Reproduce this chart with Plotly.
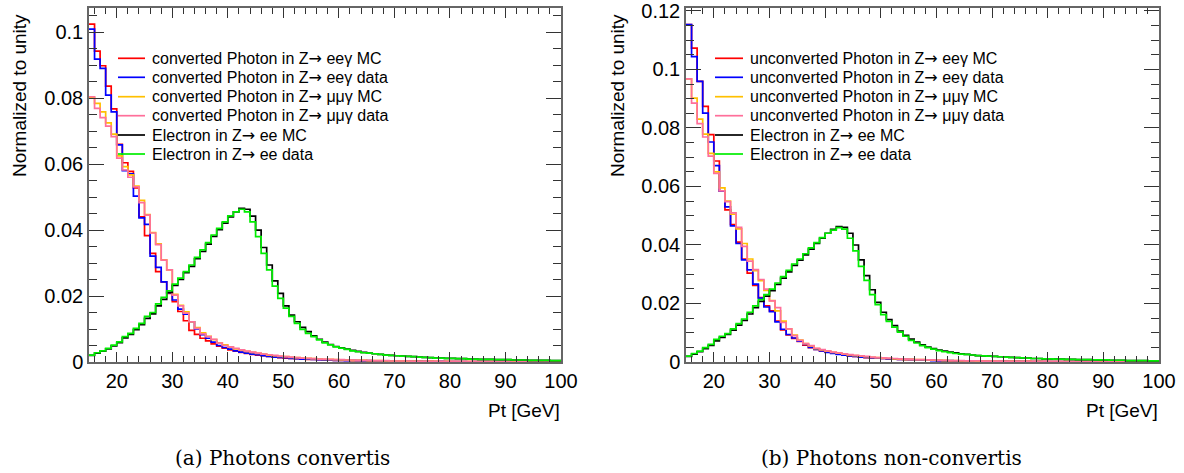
import plotly.graph_objects as go

# ---------------- data ----------------
BIN_EDGES = list(range(15, 101))  # 1 GeV bins, 15..100

# left panel: converted photons
conv_ee_mc = [
    0.1024, 0.0942, 0.0898, 0.0836, 0.0767, 0.0660, 0.0604, 0.0578, 0.0528, 0.0440,
    0.0383, 0.0329, 0.0274, 0.0243, 0.0208, 0.0183, 0.0153, 0.0125, 0.0096, 0.0084,
    0.0072, 0.0064, 0.0055, 0.0048, 0.0042, 0.0037, 0.0033, 0.0029, 0.0026, 0.0023,
    0.0021, 0.0019, 0.0017, 0.0015, 0.0013, 0.0012, 0.0011, 0.0010, 0.0009, 0.0008,
    0.0008, 0.0007, 0.0006, 0.0006, 0.0005, 0.0005, 0.0005, 0.0004, 0.0004, 0.0004,
    0.0003, 0.0003, 0.0003, 0.0003, 0.0002, 0.0002, 0.0002, 0.0002, 0.0002, 0.0002,
    0.0001, 0.0002, 0.0001, 0.0001, 0.0001, 0.0001, 0.0001, 0.0001, 0.0001, 0.0001,
    0.0001, 0.0001, 0.0001, 0.0000, 0.0001, 0.0001, 0.0000, 0.0001, 0.0000, 0.0000,
    0.0000, 0.0001, 0.0000, 0.0000, 0.0000]
conv_ee_data = [
    0.1009, 0.0918, 0.0890, 0.0809, 0.0758, 0.0658, 0.0580, 0.0570, 0.0503, 0.0437,
    0.0417, 0.0321, 0.0287, 0.0243, 0.0210, 0.0188, 0.0160, 0.0145, 0.0122, 0.0100,
    0.0083, 0.0072, 0.0060, 0.0050, 0.0044, 0.0039, 0.0034, 0.0030, 0.0027, 0.0024,
    0.0022, 0.0019, 0.0017, 0.0015, 0.0014, 0.0013, 0.0011, 0.0010, 0.0009, 0.0009,
    0.0008, 0.0007, 0.0006, 0.0006, 0.0005, 0.0005, 0.0004, 0.0005, 0.0004, 0.0003,
    0.0004, 0.0003, 0.0003, 0.0002, 0.0003, 0.0002, 0.0002, 0.0002, 0.0001, 0.0002,
    0.0002, 0.0001, 0.0001, 0.0002, 0.0001, 0.0001, 0.0001, 0.0001, 0.0000, 0.0001,
    0.0001, 0.0001, 0.0000, 0.0001, 0.0001, 0.0000, 0.0001, 0.0000, 0.0001, 0.0000,
    0.0000, 0.0000, 0.0001, 0.0000, 0.0000]
conv_mm_mc = [
    0.0802, 0.0784, 0.0758, 0.0725, 0.0691, 0.0625, 0.0592, 0.0567, 0.0533, 0.0490,
    0.0447, 0.0392, 0.0358, 0.0310, 0.0279, 0.0205, 0.0172, 0.0152, 0.0122, 0.0104,
    0.0088, 0.0078, 0.0068, 0.0058, 0.0052, 0.0045, 0.0040, 0.0036, 0.0032, 0.0029,
    0.0026, 0.0024, 0.0021, 0.0019, 0.0017, 0.0016, 0.0014, 0.0013, 0.0012, 0.0011,
    0.0010, 0.0009, 0.0008, 0.0008, 0.0007, 0.0006, 0.0006, 0.0005, 0.0005, 0.0005,
    0.0004, 0.0004, 0.0004, 0.0003, 0.0003, 0.0003, 0.0003, 0.0002, 0.0002, 0.0002,
    0.0002, 0.0002, 0.0002, 0.0001, 0.0002, 0.0001, 0.0001, 0.0001, 0.0001, 0.0001,
    0.0001, 0.0001, 0.0001, 0.0001, 0.0000, 0.0001, 0.0001, 0.0000, 0.0001, 0.0000,
    0.0001, 0.0000, 0.0000, 0.0000, 0.0000]
conv_mm_data = [
    0.0804, 0.0769, 0.0741, 0.0715, 0.0683, 0.0618, 0.0582, 0.0560, 0.0531, 0.0483,
    0.0445, 0.0391, 0.0356, 0.0309, 0.0279, 0.0203, 0.0170, 0.0148, 0.0122, 0.0102,
    0.0085, 0.0077, 0.0069, 0.0057, 0.0050, 0.0046, 0.0041, 0.0037, 0.0033, 0.0030,
    0.0027, 0.0024, 0.0022, 0.0020, 0.0018, 0.0016, 0.0015, 0.0013, 0.0012, 0.0011,
    0.0010, 0.0009, 0.0009, 0.0008, 0.0007, 0.0007, 0.0006, 0.0006, 0.0005, 0.0005,
    0.0005, 0.0004, 0.0004, 0.0004, 0.0003, 0.0003, 0.0003, 0.0003, 0.0002, 0.0002,
    0.0002, 0.0002, 0.0002, 0.0002, 0.0001, 0.0002, 0.0001, 0.0001, 0.0001, 0.0001,
    0.0001, 0.0001, 0.0001, 0.0001, 0.0001, 0.0001, 0.0000, 0.0001, 0.0001, 0.0000,
    0.0001, 0.0000, 0.0001, 0.0000, 0.0000]
ele_mc_a = [
    0.0020, 0.0027, 0.0033, 0.0040, 0.0049, 0.0059, 0.0073, 0.0084, 0.0098, 0.0113,
    0.0132, 0.0146, 0.0170, 0.0190, 0.0211, 0.0232, 0.0250, 0.0271, 0.0290, 0.0313,
    0.0335, 0.0357, 0.0381, 0.0401, 0.0421, 0.0440, 0.0455, 0.0466, 0.0463, 0.0442,
    0.0400, 0.0347, 0.0294, 0.0246, 0.0208, 0.0170, 0.0142, 0.0122, 0.0105, 0.0092,
    0.0079, 0.0069, 0.0060, 0.0053, 0.0047, 0.0043, 0.0039, 0.0035, 0.0032, 0.0029,
    0.0027, 0.0025, 0.0023, 0.0021, 0.0020, 0.0019, 0.0018, 0.0017, 0.0016, 0.0015,
    0.0014, 0.0013, 0.0012, 0.0012, 0.0011, 0.0011, 0.0010, 0.0010, 0.0009, 0.0009,
    0.0008, 0.0008, 0.0008, 0.0007, 0.0007, 0.0007, 0.0006, 0.0006, 0.0006, 0.0005,
    0.0005, 0.0005, 0.0005, 0.0004, 0.0004]
ele_data_a = [
    0.0021, 0.0028, 0.0034, 0.0041, 0.0051, 0.0061, 0.0077, 0.0087, 0.0102, 0.0117,
    0.0138, 0.0150, 0.0176, 0.0196, 0.0216, 0.0236, 0.0254, 0.0274, 0.0294, 0.0317,
    0.0340, 0.0362, 0.0385, 0.0405, 0.0425, 0.0443, 0.0455, 0.0463, 0.0455, 0.0425,
    0.0380, 0.0329, 0.0279, 0.0230, 0.0193, 0.0163, 0.0138, 0.0117, 0.0099, 0.0087,
    0.0077, 0.0067, 0.0058, 0.0052, 0.0046, 0.0042, 0.0038, 0.0034, 0.0031, 0.0028,
    0.0027, 0.0025, 0.0023, 0.0021, 0.0020, 0.0019, 0.0018, 0.0017, 0.0016, 0.0015,
    0.0014, 0.0013, 0.0012, 0.0012, 0.0011, 0.0011, 0.0010, 0.0010, 0.0009, 0.0009,
    0.0008, 0.0008, 0.0008, 0.0007, 0.0007, 0.0007, 0.0006, 0.0006, 0.0006, 0.0005,
    0.0005, 0.0005, 0.0005, 0.0004, 0.0004]

# right panel: unconverted photons
unconv_ee_mc = [
    0.1153, 0.1073, 0.0959, 0.0874, 0.0777, 0.0687, 0.0584, 0.0520, 0.0470, 0.0410,
    0.0352, 0.0304, 0.0262, 0.0220, 0.0192, 0.0175, 0.0140, 0.0110, 0.0093, 0.0081,
    0.0070, 0.0058, 0.0049, 0.0043, 0.0038, 0.0034, 0.0030, 0.0027, 0.0024, 0.0021,
    0.0019, 0.0017, 0.0015, 0.0014, 0.0013, 0.0012, 0.0011, 0.0010, 0.0009, 0.0008,
    0.0008, 0.0007, 0.0007, 0.0006, 0.0006, 0.0005, 0.0005, 0.0004, 0.0004, 0.0004,
    0.0003, 0.0003, 0.0003, 0.0003, 0.0002, 0.0002, 0.0002, 0.0002, 0.0002, 0.0002,
    0.0001, 0.0002, 0.0001, 0.0001, 0.0001, 0.0001, 0.0001, 0.0001, 0.0001, 0.0001,
    0.0001, 0.0001, 0.0001, 0.0000, 0.0001, 0.0001, 0.0000, 0.0001, 0.0000, 0.0000,
    0.0000, 0.0001, 0.0000, 0.0000, 0.0000]
unconv_ee_data = [
    0.1153, 0.1044, 0.0959, 0.0851, 0.0752, 0.0671, 0.0584, 0.0530, 0.0465, 0.0405,
    0.0349, 0.0315, 0.0266, 0.0218, 0.0188, 0.0172, 0.0137, 0.0112, 0.0094, 0.0082,
    0.0071, 0.0060, 0.0050, 0.0043, 0.0038, 0.0033, 0.0029, 0.0026, 0.0023, 0.0021,
    0.0019, 0.0017, 0.0016, 0.0014, 0.0013, 0.0012, 0.0011, 0.0010, 0.0009, 0.0009,
    0.0008, 0.0007, 0.0006, 0.0006, 0.0005, 0.0005, 0.0004, 0.0005, 0.0004, 0.0003,
    0.0004, 0.0003, 0.0003, 0.0002, 0.0003, 0.0002, 0.0002, 0.0002, 0.0001, 0.0002,
    0.0002, 0.0001, 0.0001, 0.0002, 0.0001, 0.0001, 0.0001, 0.0001, 0.0000, 0.0001,
    0.0001, 0.0001, 0.0000, 0.0001, 0.0001, 0.0000, 0.0001, 0.0000, 0.0001, 0.0000,
    0.0000, 0.0000, 0.0001, 0.0000, 0.0000]
unconv_mm_mc = [
    0.0968, 0.0902, 0.0830, 0.0779, 0.0713, 0.0650, 0.0595, 0.0550, 0.0505, 0.0455,
    0.0405, 0.0352, 0.0312, 0.0278, 0.0245, 0.0210, 0.0175, 0.0140, 0.0113, 0.0092,
    0.0075, 0.0063, 0.0055, 0.0046, 0.0041, 0.0037, 0.0033, 0.0030, 0.0027, 0.0024,
    0.0022, 0.0020, 0.0018, 0.0016, 0.0015, 0.0013, 0.0012, 0.0011, 0.0010, 0.0009,
    0.0009, 0.0008, 0.0008, 0.0007, 0.0006, 0.0006, 0.0005, 0.0005, 0.0005, 0.0004,
    0.0004, 0.0004, 0.0003, 0.0003, 0.0003, 0.0003, 0.0002, 0.0002, 0.0002, 0.0002,
    0.0002, 0.0002, 0.0001, 0.0002, 0.0001, 0.0001, 0.0001, 0.0001, 0.0001, 0.0001,
    0.0001, 0.0001, 0.0001, 0.0000, 0.0001, 0.0001, 0.0000, 0.0001, 0.0000, 0.0000,
    0.0001, 0.0000, 0.0000, 0.0000, 0.0000]
unconv_mm_data = [
    0.0968, 0.0885, 0.0815, 0.0769, 0.0704, 0.0645, 0.0585, 0.0548, 0.0510, 0.0460,
    0.0395, 0.0345, 0.0316, 0.0282, 0.0249, 0.0209, 0.0186, 0.0135, 0.0113, 0.0090,
    0.0074, 0.0063, 0.0056, 0.0047, 0.0042, 0.0038, 0.0034, 0.0031, 0.0028, 0.0025,
    0.0023, 0.0021, 0.0019, 0.0017, 0.0015, 0.0014, 0.0013, 0.0012, 0.0011, 0.0010,
    0.0009, 0.0008, 0.0008, 0.0007, 0.0007, 0.0006, 0.0006, 0.0005, 0.0005, 0.0005,
    0.0004, 0.0004, 0.0004, 0.0003, 0.0003, 0.0003, 0.0003, 0.0002, 0.0002, 0.0002,
    0.0002, 0.0002, 0.0002, 0.0001, 0.0002, 0.0001, 0.0001, 0.0001, 0.0001, 0.0001,
    0.0001, 0.0001, 0.0001, 0.0001, 0.0000, 0.0001, 0.0001, 0.0000, 0.0001, 0.0000,
    0.0001, 0.0000, 0.0001, 0.0000, 0.0000]
ele_mc_b = [
    0.0019, 0.0027, 0.0035, 0.0046, 0.0057, 0.0072, 0.0084, 0.0094, 0.0109, 0.0126,
    0.0142, 0.0164, 0.0186, 0.0207, 0.0225, 0.0244, 0.0265, 0.0287, 0.0308, 0.0330,
    0.0348, 0.0366, 0.0386, 0.0405, 0.0423, 0.0440, 0.0453, 0.0463, 0.0460, 0.0440,
    0.0400, 0.0349, 0.0295, 0.0247, 0.0204, 0.0170, 0.0145, 0.0124, 0.0106, 0.0091,
    0.0078, 0.0068, 0.0059, 0.0051, 0.0046, 0.0041, 0.0037, 0.0034, 0.0031, 0.0028,
    0.0026, 0.0024, 0.0022, 0.0021, 0.0020, 0.0019, 0.0018, 0.0017, 0.0016, 0.0015,
    0.0014, 0.0013, 0.0012, 0.0012, 0.0011, 0.0011, 0.0010, 0.0010, 0.0009, 0.0009,
    0.0008, 0.0008, 0.0008, 0.0007, 0.0007, 0.0007, 0.0006, 0.0006, 0.0006, 0.0005,
    0.0005, 0.0005, 0.0005, 0.0004, 0.0004]
ele_data_b = [
    0.0020, 0.0029, 0.0037, 0.0049, 0.0060, 0.0077, 0.0088, 0.0097, 0.0113, 0.0131,
    0.0147, 0.0170, 0.0192, 0.0213, 0.0230, 0.0249, 0.0270, 0.0292, 0.0313, 0.0335,
    0.0352, 0.0370, 0.0390, 0.0408, 0.0425, 0.0440, 0.0451, 0.0459, 0.0454, 0.0423,
    0.0380, 0.0327, 0.0279, 0.0230, 0.0196, 0.0162, 0.0139, 0.0119, 0.0102, 0.0088,
    0.0074, 0.0065, 0.0056, 0.0049, 0.0044, 0.0039, 0.0035, 0.0032, 0.0029, 0.0027,
    0.0026, 0.0024, 0.0022, 0.0021, 0.0020, 0.0019, 0.0018, 0.0017, 0.0016, 0.0015,
    0.0014, 0.0013, 0.0012, 0.0012, 0.0011, 0.0011, 0.0010, 0.0010, 0.0009, 0.0009,
    0.0008, 0.0008, 0.0008, 0.0007, 0.0007, 0.0007, 0.0006, 0.0006, 0.0006, 0.0005,
    0.0005, 0.0005, 0.0005, 0.0004, 0.0004]

ARROW = "<span style='font-family:DejaVu Sans'>\u2192</span>"
NAMES_A = ["converted Photon in Z" + ARROW + " ee\u03b3 MC", "converted Photon in Z" + ARROW + " ee\u03b3 data",
           "converted Photon in Z" + ARROW + " \u03bc\u03bc\u03b3 MC", "converted Photon in Z" + ARROW + " \u03bc\u03bc\u03b3 data",
           "Electron in Z" + ARROW + " ee MC", "Electron in Z" + ARROW + " ee data"]
NAMES_B = ["unconverted Photon in Z" + ARROW + " ee\u03b3 MC", "unconverted Photon in Z" + ARROW + " ee\u03b3 data",
           "unconverted Photon in Z" + ARROW + " \u03bc\u03bc\u03b3 MC", "unconverted Photon in Z" + ARROW + " \u03bc\u03bc\u03b3 data",
           "Electron in Z" + ARROW + " ee MC", "Electron in Z" + ARROW + " ee data"]
COLORS = ["#ff0000", "#0000ff", "#ffc000", "#ff6f9a", "#000000", "#00ee00"]
Y_TICKS_A = [0, 0.02, 0.04, 0.06, 0.08, 0.1]
Y_TICKS_B = [0, 0.02, 0.04, 0.06, 0.08, 0.1, 0.12]
X_TICKS = [20, 30, 40, 50, 60, 70, 80, 90, 100]

SERIES_A = [conv_ee_mc, conv_ee_data, conv_mm_mc, conv_mm_data, ele_mc_a, ele_data_a]
SERIES_B = [unconv_ee_mc, unconv_ee_data, unconv_mm_mc, unconv_mm_data, ele_mc_b, ele_data_b]

# ---------------- layout geometry (pixels) ----------------
W, H = 1184, 473
ML, MR, MT, MB = 89, 25, 8, 111
PW, PH = W - ML - MR, H - MT - MB


def px(x):
    return (x - ML) / PW


def py(y):
    return (H - MB - y) / PH


fig = go.Figure()
for vals, name, col in zip(SERIES_A, NAMES_A, COLORS):
    fig.add_trace(go.Scatter(x=BIN_EDGES, y=vals + [vals[-1]], mode="lines", name=name,
                             line=dict(color=col, width=1.7, shape="hv"),
                             xaxis="x", yaxis="y", showlegend=False, hoverinfo="skip"))
for vals, name, col in zip(SERIES_B, NAMES_B, COLORS):
    fig.add_trace(go.Scatter(x=BIN_EDGES, y=vals + [vals[-1]], mode="lines", name=name,
                             line=dict(color=col, width=1.7, shape="hv"),
                             xaxis="x2", yaxis="y2", showlegend=False, hoverinfo="skip"))

FONT = "Liberation Sans, Arial, sans-serif"
common_x = dict(range=[15, 100], tickvals=X_TICKS, ticks="inside", ticklen=10, tickwidth=1,
                tickcolor="#333", showline=True, linecolor="#666", linewidth=1.5, mirror="ticks",
                showgrid=False, zeroline=False, automargin=False,
                tickfont=dict(family=FONT, size=20, color="#000"),
                minor=dict(dtick=2, tick0=0, ticks="inside", ticklen=6, tickcolor="#333"))
common_y = dict(ticks="inside", ticklen=15, tickwidth=1, tickcolor="#333", showline=True,
                linecolor="#666", linewidth=1.5, mirror="ticks", showgrid=False, zeroline=False,
                automargin=False, ticklabeloverflow="allow",
                tickfont=dict(family=FONT, size=20, color="#000"),
                minor=dict(dtick=0.005, tick0=0, ticks="inside", ticklen=8, tickcolor="#333"))

fig.update_layout(
    width=W, height=H, margin=dict(l=ML, r=MR, t=MT, b=MB),
    paper_bgcolor="white", plot_bgcolor="white", showlegend=False,
    xaxis=dict(domain=[0, px(561)], anchor="y", **common_x),
    yaxis=dict(domain=[0, 1], anchor="x", range=[0, 0.1073], tickvals=Y_TICKS_A, **common_y),
    xaxis2=dict(domain=[px(686), 1], anchor="y2", **common_x),
    yaxis2=dict(domain=[0, 1], anchor="x2", range=[0, 0.121], tickvals=Y_TICKS_B, **common_y),
)

# ---------------- legends (drawn as keys + text) ----------------
ROWS_Y = [58.3, 77.3, 96.7, 115.7, 135.0, 154.0]
shapes, ann = [], []
for (x0, x1, xt, names) in [(118, 145, 150, NAMES_A), (715, 743, 748, NAMES_B)]:
    for yy, name, col in zip(ROWS_Y, names, COLORS):
        shapes.append(dict(type="line", xref="paper", yref="paper", x0=px(x0), x1=px(x1),
                           y0=py(yy), y1=py(yy), line=dict(color=col, width=1.7)))
        ann.append(dict(text=name, x=px(xt), y=py(yy), xref="paper", yref="paper",
                        showarrow=False, xanchor="left", yanchor="middle",
                        font=dict(family=FONT, size=16, color="#000")))

for xc in (19, 617):
    ann.append(dict(text="Normalized to unity", x=px(xc), y=py(96), xref="paper", yref="paper",
                    textangle=-90, showarrow=False, xanchor="center", yanchor="middle",
                    font=dict(family=FONT, size=19, color="#000")))
for xr in (562, 1160):
    ann.append(dict(text="Pt [GeV]", x=px(xr), y=py(410), xref="paper", yref="paper",
                    showarrow=False, xanchor="right", yanchor="middle",
                    font=dict(family=FONT, size=19, color="#000")))
SERIF = "DejaVu Serif, Liberation Serif, serif"
ann.append(dict(text="(a) Photons convertis", x=px(282), y=py(458), xref="paper", yref="paper",
                showarrow=False, xanchor="center", yanchor="middle",
                font=dict(family=SERIF, size=20, color="#000")))
ann.append(dict(text="(b) Photons non-convertis", x=px(891), y=py(458), xref="paper", yref="paper",
                showarrow=False, xanchor="center", yanchor="middle",
                font=dict(family=SERIF, size=20, color="#000")))
fig.update_layout(annotations=ann, shapes=shapes)

fig.write_html("out.html", config={"displayModeBar": False},
               post_script="document.body.style.margin='0';document.body.style.padding='0';"
                           "document.body.style.overflow='hidden';")
